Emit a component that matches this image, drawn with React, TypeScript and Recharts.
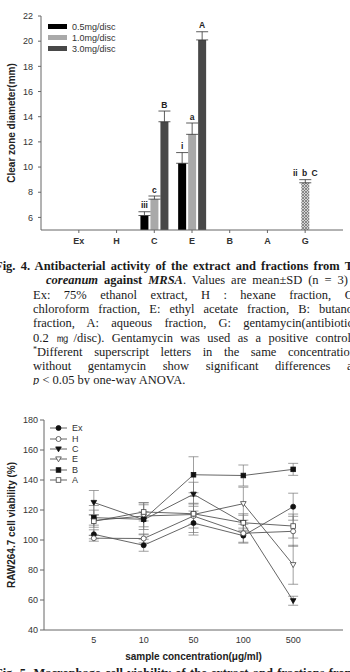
import React from "react";
import {
  Bar,
  ComposedChart,
  ErrorBar,
  LabelList,
  Legend,
  Line,
  LineChart,
  ReferenceArea,
  XAxis,
  YAxis,
} from "recharts";

// Fig. 4 — clear zone diameter (mm) against MRSA
const fractions = ["Ex", "H", "C", "E", "B", "A", "G"];
const zone05 = [null, null, 6.15, 10.3, null, null, null];
const zone05Sd = [null, null, 0.3, 0.85, null, null, null];
const zone10 = [null, null, 7.45, 12.6, null, null, null];
const zone10Sd = [null, null, 0.25, 0.9, null, null, null];
const zone30 = [null, null, 13.6, 20.1, null, null, null];
const zone30Sd = [null, null, 0.85, 0.65, null, null, null];
const gentamycin = [null, null, null, null, null, null, 8.75];
const gentamycinSd = [null, null, null, null, null, null, 0.25];
const letters05 = ["", "", "iii", "i", "", "", ""];
const letters10 = ["", "", "c", "a", "", "", ""];
const letters30 = ["", "", "B", "A", "", "", ""];
const lettersGent = ["", "", "", "", "", "", "ii b C"];
const zoneTicks = [6, 8, 10, 12, 14, 16, 18, 20, 22];

// Fig. 5 — RAW264.7 cell viability (%)
const concentrations = ["5", "10", "50", "100", "500"];
const viabEx = [103.8, 96.5, 111.3, 102.9, 122.2];
const viabExSd = [3, 4, 8, 5, 9];
const viabH = [101.2, 101.0, 116.0, 104.5, 105.8];
const viabHSd = [2, 3, 8, 6, 10];
const viabC = [125.0, 113.5, 130.5, 111.5, 59.5];
const viabCSd = [8, 10, 8, 5, 3];
const viabE = [113.0, 116.0, 117.0, 124.2, 83.5];
const viabESd = [10, 9, 12, 11, 13];
const viabB = [114.9, 113.8, 143.5, 143.0, 147.1];
const viabBSd = [5, 5, 12, 7, 4];
const viabA = [112.5, 118.7, 117.5, 111.5, 109.3];
const viabASd = [4, 6, 7, 6, 8];
const viabTicks = [40, 60, 80, 100, 120, 140, 160, 180];

const ZONE_H = 252;
const ZONE_TOP = 16;
const ZONE_XAXIS_H = 22;
const ZONE_PX_PER_MM = (ZONE_H - ZONE_TOP - ZONE_XAXIS_H) / (22 - 5);

const errPair = (sd: number | null) => (sd == null ? null : [0, sd]);
const tag = (letter: string, sd: number | null) => (letter ? `${letter}|${sd ?? 0}` : null);

const zoneRows = fractions.map((f, i) => ({
  name: f,
  d05: zone05[i],
  d05Err: errPair(zone05Sd[i]),
  d05Tag: tag(letters05[i], zone05Sd[i]),
  d10: zone10[i],
  d10Err: errPair(zone10Sd[i]),
  d10Tag: tag(letters10[i], zone10Sd[i]),
  d30: zone30[i],
  d30Err: errPair(zone30Sd[i]),
  d30Tag: tag(letters30[i], zone30Sd[i]),
  gent: gentamycin[i],
  gentErr: errPair(gentamycinSd[i]),
  gentTag: tag(lettersGent[i], gentamycinSd[i]),
}));

const viabSeries = [
  { key: "Ex", values: viabEx, sd: viabExSd },
  { key: "H", values: viabH, sd: viabHSd },
  { key: "C", values: viabC, sd: viabCSd },
  { key: "E", values: viabE, sd: viabESd },
  { key: "B", values: viabB, sd: viabBSd },
  { key: "A", values: viabA, sd: viabASd },
];
const viabKeys = viabSeries.map((s) => s.key);

const markerKind: Record<string, { shape: string; filled: boolean }> = {
  Ex: { shape: "circle", filled: true },
  H: { shape: "circle", filled: false },
  C: { shape: "triangle", filled: true },
  E: { shape: "triangle", filled: false },
  B: { shape: "square", filled: true },
  A: { shape: "square", filled: false },
};

const viabRows = concentrations.map((c, i) => {
  const row: Record<string, number | string> = { pos: i + 1, label: c };
  viabSeries.forEach((s) => {
    row[s.key] = s.values[i];
    row[s.key + "Sd"] = s.sd[i];
  });
  return row;
});

const axisFont = "'Liberation Sans', Arial, sans-serif";

function Marker({ cx, cy, shape, filled }: any) {
  if (cx == null || cy == null) return null;
  const fill = filled ? "#111" : "#fff";
  const stroke = filled ? "#111" : "#444";
  if (shape === "circle")
    return <circle cx={cx} cy={cy} r={2.5} fill={fill} stroke={stroke} strokeWidth={0.8} />;
  if (shape === "square")
    return <rect x={cx - 2.3} y={cy - 2.3} width={4.6} height={4.6} fill={fill} stroke={stroke} strokeWidth={0.8} />;
  return (
    <polygon
      points={`${cx - 2.8},${cy - 2.1} ${cx + 2.8},${cy - 2.1} ${cx},${cy + 2.8}`}
      fill={fill}
      stroke={stroke}
      strokeWidth={0.8}
    />
  );
}

// letter above the error bar; value comes in as "letter|sd"
function LetterLabel(props: any) {
  const { value } = props;
  if (!value || typeof value !== "string") return null;
  const [letter, sdStr] = value.split("|");
  const vb = props.viewBox && props.viewBox.x != null ? props.viewBox : props;
  const x = Number(vb.x);
  const y = Number(vb.y);
  const width = Number(vb.width);
  const top = y - Number(sdStr) * ZONE_PX_PER_MM;
  return (
    <text
      x={x + width / 2}
      y={top - 3.5}
      textAnchor="middle"
      fontSize={8.5}
      fontWeight="bold"
      fontFamily={axisFont}
      fill="#222"
      style={{ wordSpacing: 2 }}
    >
      {letter}
    </text>
  );
}

function ZoneLegend({ payload }: any) {
  const items = (payload || []).filter((e: any) => e.type !== "none" && e.value !== "gentamycin");
  return (
    <div style={{ fontSize: 9, color: "#333", fontFamily: axisFont }}>
      {items.map((e: any) => (
        <div key={e.value} style={{ display: "flex", alignItems: "center", height: 11 }}>
          <span style={{ display: "inline-block", width: 19, height: 5, background: e.color, marginRight: 5 }} />
          {e.value}
        </div>
      ))}
    </div>
  );
}

function ViabLegend({ payload }: any) {
  const items = [...(payload || [])].sort(
    (a: any, b: any) => viabKeys.indexOf(a.value) - viabKeys.indexOf(b.value)
  );
  return (
    <div style={{ fontSize: 9, color: "#333", fontFamily: axisFont }}>
      {items.map((e: any) => (
        <div key={e.value} style={{ display: "flex", alignItems: "center", height: 10.35 }}>
          <svg width={17} height={8}>
            <line x1={0} y1={4} x2={17} y2={4} stroke="#555" strokeWidth={0.9} />
            <Marker cx={8.5} cy={4} {...markerKind[e.value]} />
          </svg>
          <span style={{ marginLeft: 5 }}>{e.value}</span>
        </div>
      ))}
    </div>
  );
}

function ZoneChart() {
  return (
    <ComposedChart
      width={350}
      height={ZONE_H}
      data={zoneRows}
      margin={{ top: ZONE_TOP, right: 7, bottom: 0, left: 0 }}
      barSize={8}
      barGap={2}
    >
      <defs>
        <pattern id="gentHatch" width="3" height="3" patternUnits="userSpaceOnUse">
          <rect width="3" height="3" fill="#d2d2d2" />
          <path d="M0,0 L3,3 M3,0 L0,3" stroke="#6a6a6a" strokeWidth="0.7" />
        </pattern>
      </defs>
      <XAxis
        dataKey="name"
        interval={0}
        padding={{ left: 19, right: 19 }}
        height={ZONE_XAXIS_H}
        tickSize={3}
        tickMargin={5}
        stroke="#666"
        tick={{ fontSize: 9, fontWeight: "bold", fill: "#333", fontFamily: axisFont }}
      />
      <YAxis
        type="number"
        domain={[5, 22]}
        allowDataOverflow
        ticks={zoneTicks}
        width={41}
        tickSize={3}
        tickMargin={5}
        stroke="#666"
        tick={{ fontSize: 9, fill: "#333", fontFamily: axisFont }}
        label={{
          value: "Clear zone diameter(mm)",
          angle: -90,
          position: "insideLeft",
          offset: 11,
          style: { textAnchor: "middle", fontSize: 10, fontWeight: "bold", fill: "#222", fontFamily: axisFont },
        }}
      />
      <ReferenceArea fill="none" stroke="#888" strokeWidth={1} />
      <Legend
        layout="vertical"
        align="center"
        verticalAlign="middle"
        wrapperStyle={{ left: 48, top: 21, width: "auto", height: "auto" }}
        content={<ZoneLegend />}
      />
      <Bar dataKey="d05" name="0.5mg/disc" stackId="s05" fill="#000" isAnimationActive={false}>
        <ErrorBar dataKey="d05Err" width={6} stroke="#333" strokeWidth={0.8} />
        <LabelList dataKey="d05Tag" content={<LetterLabel />} />
      </Bar>
      <Bar dataKey="d10" name="1.0mg/disc" stackId="mid" fill="#a9a9a9" isAnimationActive={false}>
        <ErrorBar dataKey="d10Err" width={6} stroke="#333" strokeWidth={0.8} />
        <LabelList dataKey="d10Tag" content={<LetterLabel />} />
      </Bar>
      <Bar dataKey="gent" name="gentamycin" stackId="mid" fill="url(#gentHatch)" legendType="none" isAnimationActive={false}>
        <ErrorBar dataKey="gentErr" width={6} stroke="#333" strokeWidth={0.8} />
        <LabelList dataKey="gentTag" content={<LetterLabel />} />
      </Bar>
      <Bar dataKey="d30" name="3.0mg/disc" stackId="s30" fill="#484848" isAnimationActive={false}>
        <ErrorBar dataKey="d30Err" width={6} stroke="#333" strokeWidth={0.8} />
        <LabelList dataKey="d30Tag" content={<LetterLabel />} />
      </Bar>
    </ComposedChart>
  );
}

function ViabilityChart() {
  return (
    <LineChart width={350} height={262} data={viabRows} margin={{ top: 10, right: 7, bottom: 0, left: 0 }}>
      <XAxis
        type="number"
        dataKey="pos"
        domain={[0, concentrations.length + 1]}
        ticks={concentrations.map((_, i) => i + 1)}
        tickFormatter={(v: number) => concentrations[v - 1]}
        allowDataOverflow
        height={42}
        tickSize={0}
        tickMargin={7}
        stroke="#666"
        tick={{ fontSize: 9, fill: "#333", fontFamily: axisFont }}
        label={{
          value: "sample concentration(μg/ml)",
          position: "insideBottom",
          offset: 12,
          style: { fontSize: 10, fontWeight: "bold", fill: "#222", fontFamily: axisFont },
        }}
      />
      <YAxis
        type="number"
        domain={[40, 180]}
        allowDataOverflow
        ticks={viabTicks}
        width={44}
        tickSize={4}
        tickMargin={2}
        stroke="#666"
        tick={{ fontSize: 9, fill: "#333", fontFamily: axisFont }}
        label={{
          value: "RAW264.7 cell viability (%)",
          angle: -90,
          position: "insideLeft",
          offset: 11,
          style: { textAnchor: "middle", fontSize: 10, fontWeight: "bold", fill: "#222", fontFamily: axisFont },
        }}
      />
      <ReferenceArea fill="none" stroke="#888" strokeWidth={1} />
      <Legend
        layout="vertical"
        align="center"
        verticalAlign="middle"
        itemSorter={(item: any) => viabKeys.indexOf(item.value)}
        wrapperStyle={{ left: 50, top: 13, width: "auto", height: "auto" }}
        content={<ViabLegend />}
      />
      {viabSeries.map((s) => (
        <Line
          key={s.key}
          dataKey={s.key}
          name={s.key}
          stroke="#555"
          strokeWidth={0.9}
          isAnimationActive={false}
          activeDot={false}
          dot={(p: any) => <Marker key={`${s.key}-${p.index}`} cx={p.cx} cy={p.cy} {...markerKind[s.key]} />}
        >
          <ErrorBar dataKey={s.key + "Sd"} width={5} stroke="#777" strokeWidth={0.7} direction="y" />
        </Line>
      ))}
    </LineChart>
  );
}

const captionFont = "'Liberation Serif', 'Times New Roman', serif";

function CapLine({ top, left, width, children, justify = true, bold = false }: any) {
  return (
    <div
      style={{
        position: "absolute",
        top,
        left,
        width,
        whiteSpace: "nowrap",
        textAlign: justify ? "justify" : "left",
        textAlignLast: justify ? "justify" : "left",
        fontWeight: bold ? "bold" : "normal",
      }}
    >
      {children}
    </div>
  );
}

function Caption() {
  const lh = 14.3;
  return (
    <div
      style={{
        position: "absolute",
        top: 259,
        left: 0,
        width: 350,
        height: 126,
        overflow: "hidden",
        fontFamily: captionFont,
        fontSize: 12.5,
        lineHeight: `${lh}px`,
        color: "#1a1a1a",
      }}
    >
      <CapLine top={0} left={-5} width={358} bold>
        Fig. 4. Antibacterial activity of the extract and fractions from T
      </CapLine>
      <CapLine top={lh} left={46} width={302}>
        <b>
          <i>coreanum</i> against <i>MRSA</i>
        </b>
        . Values are mean±SD (n = 3)
      </CapLine>
      <CapLine top={lh * 2} left={33} width={320}>
        Ex: 75% ethanol extract, H : hexane fraction, C
      </CapLine>
      <CapLine top={lh * 3} left={33} width={320}>
        chloroform fraction, E: ethyl acetate fraction, B: butano
      </CapLine>
      <CapLine top={lh * 4} left={33} width={320}>
        fraction, A: aqueous fraction, G: gentamycin(antibiotic
      </CapLine>
      <CapLine top={lh * 5} left={33} width={318}>
        0.2 ㎎/disc). Gentamycin was used as a positive control
      </CapLine>
      <CapLine top={lh * 6} left={33} width={323}>
        <span style={{ fontSize: 8, position: "relative", top: -4 }}>*</span>Different superscript letters in the same
        concentration
      </CapLine>
      <CapLine top={lh * 7} left={33} width={323}>
        without gentamycin show significant differences at
      </CapLine>
      <CapLine top={lh * 8} left={33} width={300} justify={false}>
        <i>p</i> &lt; 0.05 by one-way ANOVA.
      </CapLine>
    </div>
  );
}

export default function App() {
  return (
    <div
      style={{
        position: "absolute",
        left: 0,
        top: 0,
        width: 350,
        height: 672,
        overflow: "hidden",
        background: "#fff",
      }}
    >
      <div style={{ position: "absolute", left: 0, top: 0 }}>
        <ZoneChart />
      </div>
      <Caption />
      <div style={{ position: "absolute", left: 0, top: 410 }}>
        <ViabilityChart />
      </div>
      <div
        style={{
          position: "absolute",
          top: 666,
          left: -5,
          width: 360,
          fontFamily: captionFont,
          fontSize: 12.5,
          fontWeight: "bold",
          lineHeight: "14.3px",
          whiteSpace: "nowrap",
          textAlign: "justify",
          textAlignLast: "justify",
          color: "#1a1a1a",
        }}
      >
        Fig. 5. Macrophage cell viability of the extract and fractions from
      </div>
    </div>
  );
}
